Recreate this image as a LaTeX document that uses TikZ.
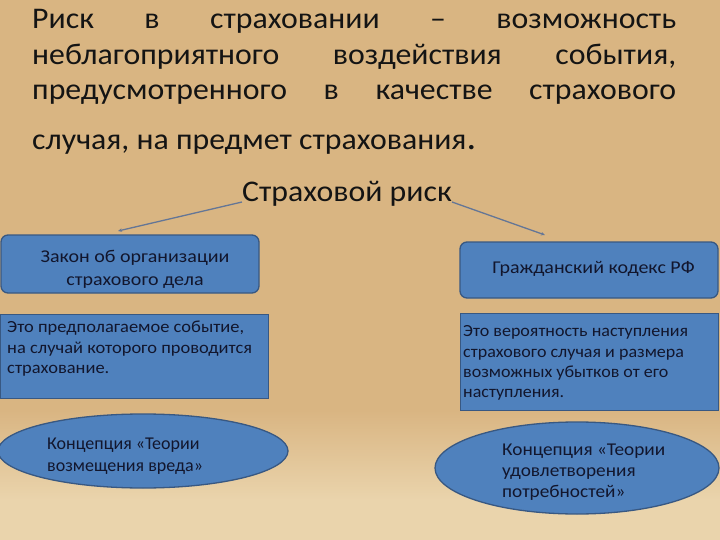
\documentclass[tikz,border=0pt]{standalone}
\usepackage{fontspec}
\setmainfont{Carlito}
\newfontfamily\ftitle[FakeStretch=1.06]{Carlito}
\newfontfamily\ftop[FakeStretch=1.11]{Carlito}
\newfontfamily\fmidl[FakeStretch=1.085]{Carlito}
\newfontfamily\fmidr[FakeStretch=1.06]{Carlito}
\newfontfamily\fovl[FakeStretch=1.0]{Carlito}
\newfontfamily\fovr[FakeStretch=1.07]{Carlito}
\usetikzlibrary{shapes.geometric,arrows.meta}
\definecolor{bg}{RGB}{217,181,130}
\definecolor{bglight}{RGB}{234,212,172}
\definecolor{boxfill}{RGB}{79,129,189}
\definecolor{boxdraw}{RGB}{56,88,130}
\definecolor{arrowc}{RGB}{100,118,150}
\definecolor{txt}{RGB}{20,20,20}
\definecolor{btxt}{RGB}{18,22,45}
\tikzset{
  titleline/.style={anchor=base west, inner sep=0pt, text=txt, font=\ftitle\fontsize{30}{36}\selectfont},
  lbl/.style={inner sep=0pt, text=btxt},
  roundbox/.style={draw=boxdraw, line width=1.3pt, fill=boxfill, rounded corners=7pt},
  sqbox/.style={draw=boxdraw, line width=1.3pt, fill=boxfill},
  ovalbox/.style={ellipse, draw=boxdraw, line width=1.3pt, fill=boxfill, inner sep=0pt},
  arr/.style={draw=arrowc, line width=1.3pt, -{Stealth[length=4pt,width=3.5pt]}}
}
\begin{document}
\begin{tikzpicture}[x=1pt,y=-1pt]
\useasboundingbox (0,0) rectangle (720,540);
\fill[bg] (0,0) rectangle (720,540);
\shade[top color=bg, bottom color=bglight] (0,410) rectangle (720,500);
\fill[bglight] (0,500) rectangle (720,540);

% title
\node[titleline] (t1) at (32,29) {\makebox[644pt][s]{Риск в страховании – возможность}};
\node[titleline] (t2) at (32,64.5) {\makebox[644pt][s]{неблагоприятного воздействия события,}};
\node[titleline] (t3) at (32,100) {\makebox[644pt][s]{предусмотренного в качестве страхового}};
\node[titleline] (t4) at (32,150) {случая, на предмет страхования{\fontsize{36}{36}\selectfont .}};

% central term
\node[anchor=base, inner sep=0pt, text=txt, font=\ftitle\fontsize{30}{36}\selectfont] (risk) at (347,202) {Страховой риск};

\coordinate (la) at (118,231);
\coordinate (ra) at (545,235);
\draw[arr] (risk.base west) -- (la);
\draw[arr] (risk.base east) -- (ra);

% top boxes
\node[roundbox, minimum width=258pt, minimum height=58pt] (law) at (130,264) {};
\node[lbl, anchor=base, font=\ftop\fontsize{18}{22}\selectfont] (law1) at (135,262) {Закон об организации};
\node[lbl, anchor=base, font=\ftop\fontsize{18}{22}\selectfont] (law2) at (135,285) {страхового дела};

\node[roundbox, minimum width=258pt, minimum height=56pt] (civ) at (589,270) {};
\node[lbl, anchor=base, font=\ftop\fontsize{18}{22}\selectfont] (civ1) at (593.5,273) {Гражданский кодекс РФ};

% middle boxes
\node[sqbox, minimum width=268pt, minimum height=84pt, anchor=north west] (ev) at (0,314) {};
\node[lbl, anchor=base west, font=\fmidl\fontsize{17}{20}\selectfont] (ev1) at (7,332) {Это предполагаемое событие,};
\node[lbl, anchor=base west, font=\fmidl\fontsize{17}{20}\selectfont] (ev2) at (7,353) {на случай которого проводится};
\node[lbl, anchor=base west, font=\fmidl\fontsize{17}{20}\selectfont] (ev3) at (7,373) {страхование.};

\node[sqbox, minimum width=258pt, minimum height=97pt, anchor=north west] (pr) at (460,313) {};
\node[lbl, anchor=base west, font=\fmidr\fontsize{17}{20}\selectfont] (pr1) at (463,336) {Это вероятность наступления};
\node[lbl, anchor=base west, font=\fmidr\fontsize{17}{20}\selectfont] (pr2) at (463,357) {страхового случая и размера};
\node[lbl, anchor=base west, font=\fmidr\fontsize{17}{20}\selectfont] (pr3) at (463,377) {возможных убытков от его};
\node[lbl, anchor=base west, font=\fmidr\fontsize{17}{20}\selectfont] (pr4) at (463,397) {наступления.};

% ellipses
\node[ovalbox, minimum width=290pt, minimum height=74pt] (e1) at (143,451) {};
\node[lbl, anchor=base west, font=\fovl\fontsize{18}{22}\selectfont] (e1a) at (47,449) {Концепция «Теории};
\node[lbl, anchor=base west, font=\fovl\fontsize{18}{22}\selectfont] (e1b) at (47,471) {возмещения вреда»};

\node[ovalbox, minimum width=284pt, minimum height=92pt] (e2) at (577,468) {};
\node[lbl, anchor=base west, font=\fovr\fontsize{18}{22}\selectfont] (e2a) at (502,455) {Концепция «Теории};
\node[lbl, anchor=base west, font=\fovr\fontsize{18}{22}\selectfont] (e2b) at (502,476) {удовлетворения};
\node[lbl, anchor=base west, font=\fovr\fontsize{18}{22}\selectfont] (e2c) at (502,497) {потребностей»};
\end{tikzpicture}
\end{document}
